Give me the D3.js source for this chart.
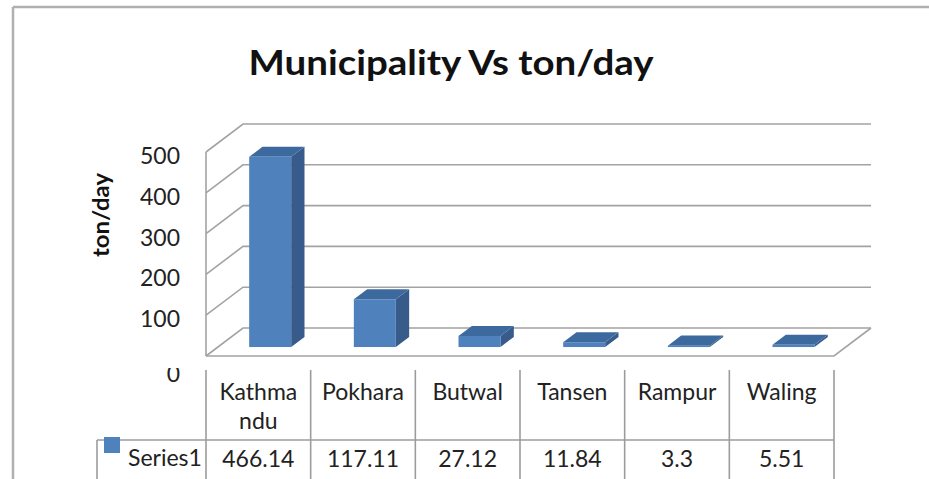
<!DOCTYPE html>
<html>
<head>
<meta charset="utf-8">
<script src="https://cdn.jsdelivr.net/npm/d3@7"></script>
<style>
  body { margin: 0; background: #fff; }
  svg { display: block; font-family: Lato, "Open Sans", sans-serif; }
</style>
</head>
<body>
<svg id="chart" width="929" height="479"></svg>
<script>
// ----------------- DATA ----------------- //
const categories = ['Kathmandu', 'Pokhara', 'Butwal', 'Tansen', 'Rampur', 'Waling'];
const headerLines = [['Kathma', 'ndu'], ['Pokhara'], ['Butwal'], ['Tansen'], ['Rampur'], ['Waling']];
const series1 = [466.14, 117.11, 27.12, 11.84, 3.3, 5.51];
const valueLabels = ['466.14', '117.11', '27.12', '11.84', '3.3', '5.51'];
const yTicks = [0, 100, 200, 300, 400, 500];
const seriesName = 'Series1';
const chartTitle = 'Municipality Vs ton/day';
const yTitle = 'ton/day';

// ----------------- LAYOUT ----------------- //
const svg = d3.select('#chart');
const depthX = 37, depthY = 28;      // 3d depth offset of the floor
const gridColor = '#a3a3a3';
const barFront = '#4f81bd', barTop = '#3d6a9e', barSide = '#375b8a';

const x = d3.scaleBand().domain(categories).range([206, 834]);
const y = d3.scaleLinear().domain([0, 500]).range([328, 124]);  // back wall

// shift a point to depth d (0 = front, 1 = back)
const dx = d => depthX * d;
const dy = d => -depthY * d;

// outer frame
svg.append('line').attr('x1', 13).attr('y1', 7).attr('x2', 929).attr('y2', 7)
    .attr('stroke', '#b0b0b0').attr('stroke-width', 2.5);
svg.append('line').attr('x1', 13).attr('y1', 7).attr('x2', 13).attr('y2', 479)
    .attr('stroke', '#b0b0b0').attr('stroke-width', 2.5);

// title
svg.append('text')
    .attr('x', 451).attr('y', 75)
    .attr('text-anchor', 'middle')
    .attr('font-size', 34).attr('font-weight', 700)
    .attr('fill', '#111')
    .attr('textLength', 405).attr('lengthAdjust', 'spacingAndGlyphs')
    .text(chartTitle);

// ----------------- WALLS ----------------- //
const x0 = x.range()[0], x1 = x.range()[1];
const walls = svg.append('g')
    .attr('fill', 'none').attr('stroke', gridColor).attr('stroke-width', 1.6);

// back wall gridlines + left wall diagonals
yTicks.forEach(v => {
    walls.append('path')
        .attr('d', d3.line()([
            [x0, y(v) + depthY],
            [x0 + depthX, y(v)],
            [x1 + depthX, y(v)]
        ]));
});
// left front edge
walls.append('line')
    .attr('x1', x0).attr('y1', y(500) + depthY)
    .attr('x2', x0).attr('y2', y(0) + depthY);
// floor front edge and right edge
walls.append('path')
    .attr('d', d3.line()([
        [x0, y(0) + depthY],
        [x1, y(0) + depthY],
        [x1 + depthX, y(0)]
    ]));

// ----------------- BARS ----------------- //
const dFront = 0.32, dBack = 0.68;
const barW = 42;
const bars = svg.append('g');

categories.forEach((c, i) => {
    const v = series1[i];
    const cx = x(c) + x.bandwidth() / 2;
    const left = cx - barW / 2 + dx(dFront);
    const right = left + barW;
    const bottom = y(0) + depthY + dy(dFront);
    const top = y(v) + depthY + dy(dFront);
    const sx = dx(dBack) - dx(dFront), sy = dy(dBack) - dy(dFront);

    bars.append('path').attr('fill', barSide)
        .attr('d', d3.line()([[right, top], [right + sx, top + sy], [right + sx, bottom + sy], [right, bottom]]) + 'Z');
    bars.append('path').attr('fill', barTop)
        .attr('d', d3.line()([[left, top], [left + sx, top + sy], [right + sx, top + sy], [right, top]]) + 'Z');
    bars.append('rect').attr('fill', barFront)
        .attr('x', left).attr('y', top)
        .attr('width', barW).attr('height', Math.max(0, bottom - top));
});

// ----------------- AXIS ----------------- //
svg.append('clipPath').attr('id', 'zeroClip')
    .append('rect').attr('x', 0).attr('y', 368).attr('width', 205).attr('height', 40);

svg.append('g')
    .selectAll('text')
    .data(yTicks)
    .join('text')
    .attr('x', 180)
    .attr('y', d => d === 0 ? y(d) + depthY + 26 : y(d) + depthY + 12)
    .attr('clip-path', d => d === 0 ? 'url(#zeroClip)' : null)
    .attr('text-anchor', 'end')
    .attr('font-size', 23)
    .attr('fill', '#222')
    .text(d => d);

svg.append('text')
    .attr('transform', 'translate(109,215) rotate(-90)')
    .attr('text-anchor', 'middle')
    .attr('font-size', 22).attr('font-weight', 700)
    .attr('fill', '#111')
    .attr('textLength', 84).attr('lengthAdjust', 'spacingAndGlyphs')
    .text(yTitle);

// ----------------- DATA TABLE ----------------- //
const table = svg.append('g');
const tableLines = table.append('g').attr('stroke', '#9c9c9c').attr('stroke-width', 1.6);
const edges = categories.map(c => x(c)).concat([x1]);

tableLines.selectAll('line.v')
    .data(edges)
    .join('line')
    .attr('class', 'v')
    .attr('x1', d => d).attr('x2', d => d)
    .attr('y1', 370).attr('y2', 479);
tableLines.append('line')
    .attr('x1', 97).attr('x2', x1).attr('y1', 440).attr('y2', 440);
tableLines.append('line')
    .attr('x1', 97).attr('x2', 97).attr('y1', 440).attr('y2', 479);

// legend key
table.append('rect')
    .attr('x', 104).attr('y', 437).attr('width', 16).attr('height', 16)
    .attr('fill', barFront);
table.append('text')
    .attr('x', 128).attr('y', 466)
    .attr('font-size', 23).attr('fill', '#222')
    .text(seriesName);

// column headers
table.selectAll('text.head')
    .data(categories)
    .join('text')
    .attr('class', 'head')
    .attr('x', d => x(d) + x.bandwidth() / 2)
    .attr('y', 400)
    .attr('text-anchor', 'middle')
    .attr('font-size', 23).attr('fill', '#222')
    .each(function (d, i) {
        d3.select(this).selectAll('tspan')
            .data(headerLines[i])
            .join('tspan')
            .attr('x', x(d) + x.bandwidth() / 2)
            .attr('dy', (t, j) => j === 0 ? 0 : 29)
            .text(t => t);
    });

// values
table.selectAll('text.val')
    .data(categories)
    .join('text')
    .attr('class', 'val')
    .attr('x', d => x(d) + x.bandwidth() / 2)
    .attr('y', 467)
    .attr('text-anchor', 'middle')
    .attr('font-size', 23).attr('fill', '#222')
    .text((d, i) => valueLabels[i]);
</script>
</body>
</html>
